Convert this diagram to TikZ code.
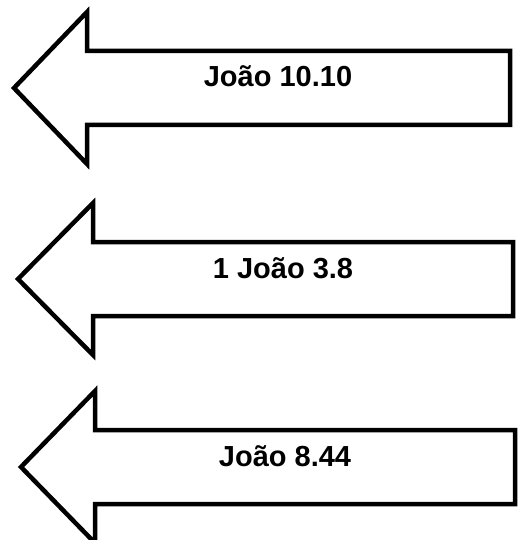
\documentclass[tikz,border=0pt]{standalone}
\usepackage{fontspec}
\setmainfont{Liberation Sans}
\usepackage{tikz}
\usetikzlibrary{calc}

\begin{document}
\begin{tikzpicture}[x = 1pt, y = -1pt]
    \useasboundingbox (0,0) rectangle (527,540);

    % tip x / tip y / head x / right end / text x / label
    \foreach \tx/\ty/\hx/\rx/\cx/\i/\lbl in {14/88/87/510/278/1/{João 10.10}, 18/279/93/513/283/2/{1 João 3.8}, 21/467/95/515/285/3/{João 8.44}}
    {
        \draw [line width = 4.5pt, miter limit = 10, fill = white]
            (\tx, \ty) -- (\hx, \ty-76) -- (\hx, \ty-37) -- (\rx, \ty-37)
            -- (\rx, \ty+37) -- (\hx, \ty+37) -- (\hx, \ty+76) -- cycle;
        \node (ref\i) [anchor = base, inner sep = 0pt, font = \fontsize{29}{34}\selectfont\bfseries] at (\cx, \ty-1) {\lbl};
    }
\end{tikzpicture}
\end{document}
